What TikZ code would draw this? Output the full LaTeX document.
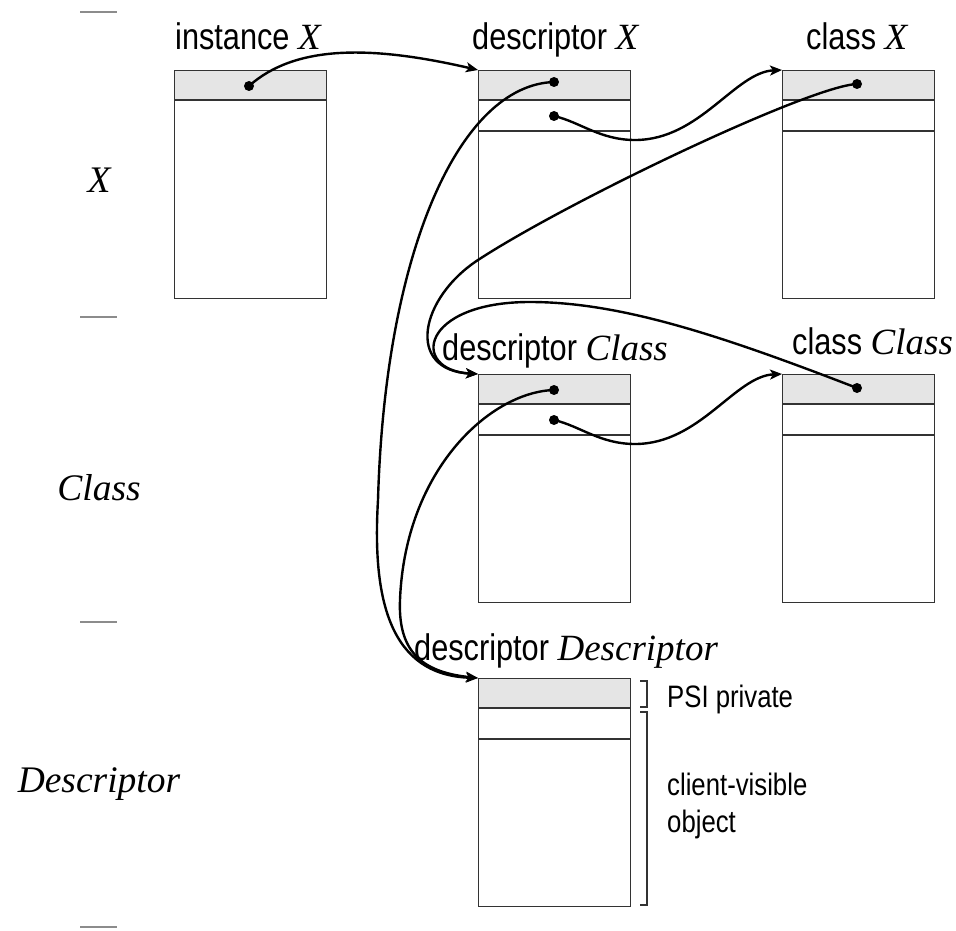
\documentclass[tikz,border=0pt]{standalone}
\usepackage{fontspec}
\newfontfamily\narrowsans{Liberation Sans}[FakeStretch=0.83]
\newfontfamily\romanface{Liberation Serif}
\usetikzlibrary{arrows.meta,calc}
\definecolor{bandgray}{gray}{0.9}
\definecolor{framegray}{gray}{0.2}
\definecolor{rulegray}{gray}{0.55}
\newcommand{\vn}[1]{{\romanface\itshape #1}}

\tikzset{
  objbox/.style={draw=framegray, line width=1.3pt, minimum width=152pt,
                 minimum height=228pt, inner sep=0pt, anchor=north west},
  title/.style={anchor=base west, inner sep=0pt,
                font=\narrowsans\fontsize{37}{40}\selectfont},
  note/.style={anchor=base west, inner sep=0pt,
               font=\narrowsans\fontsize{31}{36}\selectfont},
  level/.style={anchor=base, inner sep=0pt,
                font=\romanface\itshape\fontsize{37.5}{40}\selectfont},
  ptr/.style={circle, fill=black, inner sep=0pt, minimum size=10pt},
  link/.style={line width=2.4pt, -{Stealth[length=12pt,width=10pt,inset=3pt]}},
  divider/.style={draw=framegray, line width=1.3pt},
  levelrule/.style={draw=rulegray, line width=1.4pt},
  brace/.style={draw=framegray, line width=1.3pt}
}

% one object: gray header band, optional second slot line, outer frame
\newcommand{\memobj}[4]{% name, x, y, draw second slot (1/0)
  \fill[bandgray] (#2,#3) rectangle ++(152,30);
  \draw[divider] (#2,#3+30) -- ++(152,0);
  \ifnum#4=1 \draw[divider] (#2,#3+61) -- ++(152,0);\fi
  \node[objbox] (#1) at (#2,#3) {};
}

\begin{document}
\begin{tikzpicture}[x=1pt, y=-1pt]
\useasboundingbox (0,0) rectangle (956,931);

% level separators on the left
\foreach \yy in {12,317,622,927}
  \draw[levelrule] (80,\yy) -- (117,\yy);

% level names
\node[level] (lvX) at (99,193) {X};
\node[level] (lvC) at (99,500) {Class};
\node[level] (lvD) at (99,792) {Descriptor};

% objects
\memobj{ix}{174}{70}{0}
\memobj{dx}{478}{70}{1}
\memobj{cx}{782}{70}{1}
\memobj{dc}{478}{374}{1}
\memobj{cc}{782}{374}{1}
\memobj{dd}{478}{678}{1}

% titles
\node[title] (tix) at (175,50) {instance \vn{X}};
\node[title] (tdx) at (472,50) {descriptor \vn{X}};
\node[title] (tcx) at (806,50) {class \vn{X}};
\node[title] (tdc) at (442,360) {descriptor \vn{Class}};
\node[title] (tcc) at (792,354) {class \vn{Class}};
\node[title] (tdd) at (414,660) {descriptor \vn{Descriptor}};

% pointer slots
\node[ptr] (ixd) at (249,86) {};
\node[ptr] (dxa) at (554,82) {};
\node[ptr] (dxb) at (554,116) {};
\node[ptr] (cxa) at (857,84) {};
\node[ptr] (dca) at (554,390) {};
\node[ptr] (dcb) at (554,420) {};
\node[ptr] (cca) at (857,388) {};

% pointers
\draw[link] (ixd.center) .. controls (295,45) and (370,45) .. (dx.north west);
\draw[link] (dxa.center) .. controls (460,85) and (385,250) .. (378,500)
                         .. controls (372,600) and (390,675) .. (dd.north west);
\draw[link] (dca.center) .. controls (490,392) and (405,470) .. (400,600)
                         .. controls (398,650) and (420,672) .. (dd.north west);
\draw[link] (dxb.center) .. controls (580,122) and (600,140) .. (635,140)
                         .. controls (700,140) and (735,72) .. (cx.north west);
\draw[link] (dcb.center) .. controls (580,426) and (600,444) .. (635,444)
                         .. controls (700,444) and (735,376) .. (cc.north west);
\draw[link] (cxa.center) .. controls (810,86) and (570,200) .. (478,260)
                         .. controls (420,298) and (405,370) .. (dc.north west);
\draw[link] (cca.center) .. controls (720,335) and (620,302) .. (530,302)
                         .. controls (420,302) and (410,370) .. (dc.north west);

% header / body brackets
\draw[brace] (640,681) -- (647,681) -- (647,707) -- (640,707);
\draw[brace] (640,712) -- (647,712) -- (647,905) -- (640,905);
\node[note] (npsi) at (667,707) {PSI private};
\node[note] (ncl1) at (667,795) {client-visible};
\node[note] (ncl2) at (667,832) {object};
\end{tikzpicture}
\end{document}
